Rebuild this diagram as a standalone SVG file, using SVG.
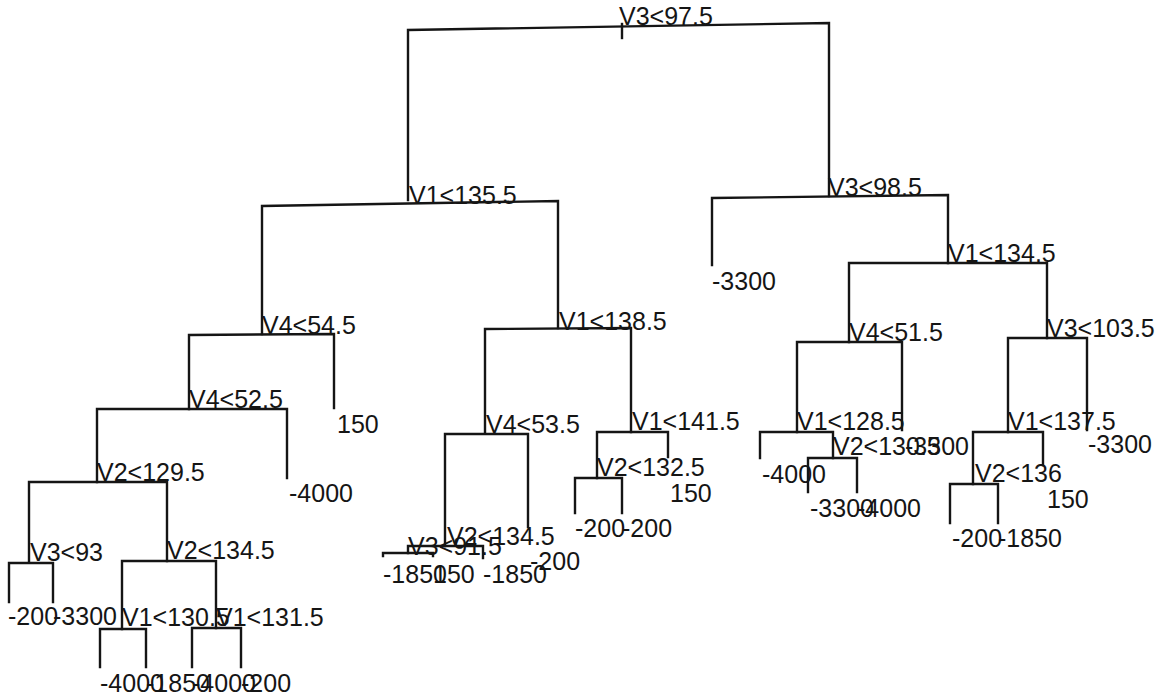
<svg xmlns="http://www.w3.org/2000/svg" width="1165" height="700" viewBox="0 0 1165 700">
<style>
.e{fill:none;stroke:#151515;stroke-width:2.4;stroke-linecap:square}
text{font-family:"Liberation Sans",Arial,sans-serif;font-size:25px;fill:#151515}
</style>
<rect width="1165" height="700" fill="#ffffff"/>
<g id="connectors">
<path class="e" d="M408,200 L408,30 L829,23 L829,196"/>
<path class="e" d="M622,24 L622,38"/>
<path class="e" d="M262,334 L262,206 L558,201 L558,328"/>
<path class="e" d="M712,265 L712,198 L948,195 L948,263"/>
<path class="e" d="M189,409 L189,335 L334,334 L334,408"/>
<path class="e" d="M485,433 L485,329 L631,328 L631,432"/>
<path class="e" d="M97,482 L97,409 L287,409 L287,478"/>
<path class="e" d="M29,562 L29,482 L167,482 L167,561"/>
<path class="e" d="M9,602 L9,563 L53,563 L53,602"/>
<path class="e" d="M122,629 L122,561 L216,561 L216,628"/>
<path class="e" d="M100,667 L100,629 L146,629 L146,667"/>
<path class="e" d="M192,667 L192,628 L241,628 L241,667"/>
<path class="e" d="M445,546 L445,434 L528,434 L528,527"/>
<path class="e" d="M408,553 L408,546 L483,546 L483,558"/>
<path class="e" d="M383,556 L383,553 L433,553 L433,556"/>
<path class="e" d="M597,478 L597,432 L668,432 L668,457"/>
<path class="e" d="M575,513 L575,478 L622,478 L622,513"/>
<path class="e" d="M849,342 L849,263 L1047,263 L1047,338"/>
<path class="e" d="M797,432 L797,342 L902,342 L902,430"/>
<path class="e" d="M1008,432 L1008,338 L1087,338 L1087,430"/>
<path class="e" d="M760,458 L760,432 L833,432 L833,458"/>
<path class="e" d="M808,492 L808,458 L857,458 L857,492"/>
<path class="e" d="M973,484 L973,432 L1043,432 L1043,465"/>
<path class="e" d="M950,523 L950,484 L998,484 L998,523"/>
</g>
<g id="n1"><text x="619" y="25">V3&lt;97.5</text></g>
<g id="n2"><text x="409" y="204">V1&lt;135.5</text></g>
<g id="n3"><text x="828" y="196">V3&lt;98.5</text></g>
<g id="n4"><text x="262" y="334">V4&lt;54.5</text></g>
<g id="n5"><text x="559" y="330">V1&lt;138.5</text></g>
<g id="n8"><text x="189" y="408">V4&lt;52.5</text></g>
<g id="n16"><text x="97" y="481">V2&lt;129.5</text></g>
<g id="n32"><text x="30" y="561">V3&lt;93</text></g>
<g id="n33"><text x="167" y="559">V2&lt;134.5</text></g>
<g id="n66"><text x="122" y="626">V1&lt;130.5</text></g>
<g id="n67"><text x="216" y="626">V1&lt;131.5</text></g>
<g id="n10"><text x="486" y="433">V4&lt;53.5</text></g>
<g id="n20"><text x="447" y="545">V2&lt;134.5</text></g>
<g id="n40"><text x="408" y="555">V3&lt;91.5</text></g>
<g id="n11"><text x="632" y="430">V1&lt;141.5</text></g>
<g id="n22"><text x="597" y="476">V2&lt;132.5</text></g>
<g id="n7"><text x="948" y="262">V1&lt;134.5</text></g>
<g id="n14"><text x="849" y="341">V4&lt;51.5</text></g>
<g id="n15"><text x="1047" y="337">V3&lt;103.5</text></g>
<g id="n28"><text x="797" y="430">V1&lt;128.5</text></g>
<g id="n57"><text x="833" y="455">V2&lt;130.5</text></g>
<g id="n30"><text x="1008" y="430">V1&lt;137.5</text></g>
<g id="n60"><text x="975" y="482">V2&lt;136</text></g>
<g id="leaves">
<g id="l64"><text x="8" y="625">-200</text></g>
<g id="l65"><text x="53" y="625">-3300</text></g>
<g id="l132"><text x="100" y="692">-4000</text></g>
<g id="l133"><text x="146" y="692">-1850</text></g>
<g id="l134"><text x="192" y="692">-4000</text></g>
<g id="l135"><text x="241" y="692">-200</text></g>
<g id="l17"><text x="289" y="502">-4000</text></g>
<g id="l9"><text x="337" y="433">150</text></g>
<g id="l80"><text x="383" y="583">-1850</text></g>
<g id="l81"><text x="433" y="583">150</text></g>
<g id="l41"><text x="483" y="583">-1850</text></g>
<g id="l21"><text x="530" y="570">-200</text></g>
<g id="l44"><text x="575" y="537">-200</text></g>
<g id="l45"><text x="622" y="537">-200</text></g>
<g id="l23"><text x="670" y="502">150</text></g>
<g id="l6"><text x="712" y="290">-3300</text></g>
<g id="l56"><text x="762" y="483">-4000</text></g>
<g id="l114"><text x="810" y="517">-3300</text></g>
<g id="l115"><text x="857" y="517">-4000</text></g>
<g id="l29"><text x="905" y="455">-3300</text></g>
<g id="l120"><text x="952" y="547">-200</text></g>
<g id="l121"><text x="998" y="547">-1850</text></g>
<g id="l61"><text x="1047" y="508">150</text></g>
<g id="l31"><text x="1088" y="453">-3300</text></g>
</g>
</svg>
